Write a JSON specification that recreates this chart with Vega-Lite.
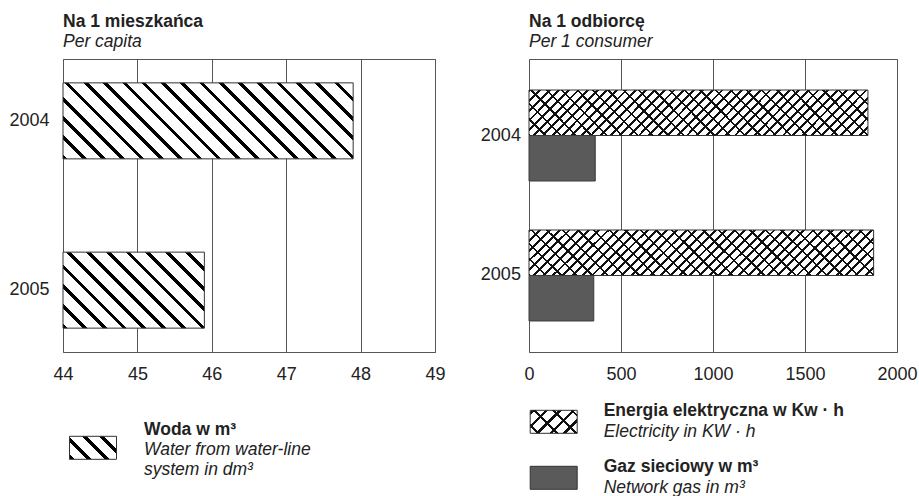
{
"$schema":"https://vega.github.io/schema/vega-lite/v6.json",
"padding":{"left":8,"top":12,"right":0,"bottom":0},
"background":"white",
"spacing":33,
"resolve":{"scale":{"stroke":"independent","strokeDash":"independent","x":"independent","y":"independent"},"legend":{"stroke":"independent","strokeDash":"independent"}},
"config":{
"font":"Liberation Sans",
"view":{"stroke":"#555","strokeWidth":1},
"axis":{"labelFont":"Liberation Sans","labelFontSize":18,"labelColor":"#222","ticks":false,"domain":false,"title":null,"gridColor":"#555","gridOpacity":1,"gridWidth":1},
"title":{"anchor":"start","frame":"group","font":"Liberation Sans","fontSize":17.5,"fontWeight":"bold","color":"#222","subtitleFont":"Liberation Sans","subtitleFontSize":17.5,"subtitleFontStyle":"italic","subtitleColor":"#222","subtitlePadding":2.5,"offset":9}
},
"hconcat":[
{
"width":372,"height":293,
"title":{"text":"Na 1 mieszkańca","subtitle":"Per capita"},
"data":{"values":[
{"year":"2004","value":47.9,"pl":"Woda w m³","en":"Water from water-line\nsystem in dm³"},
{"year":"2005","value":45.9,"pl":"Woda w m³","en":"Water from water-line\nsystem in dm³"}
]},
"encoding":{
"y":{"field":"year","type":"nominal","scale":{"paddingInner":0.551,"paddingOuter":0.141},"axis":{"labelPadding":14,"grid":false}},
"x":{"field":"value","type":"quantitative","scale":{"domain":[44,49],"nice":false,"zero":false},"axis":{"values":[44,45,46,47,48,49],"grid":true,"labelPadding":13.5,"labelFlush":false,"labelOverlap":false}},
"x2":{"datum":44}
},
"layer":[
{"transform":[{"filter":"datum.year === '2004'"}],
"mark":{"type":"bar","stroke":"#333","strokeWidth":1,"fill":{"gradient":"linear","x1":0,"y1":1,"x2":1.1809,"y2":0.6907,"stops":[
{"offset":0,"color":"#000"},{"offset":0.0126,"color":"#000"},{"offset":0.0126,"color":"#fff"},{"offset":0.0526,"color":"#fff"},
{"offset":0.0526,"color":"#000"},{"offset":0.0653,"color":"#000"},{"offset":0.0653,"color":"#fff"},{"offset":0.1053,"color":"#fff"},
{"offset":0.1053,"color":"#000"},{"offset":0.1179,"color":"#000"},{"offset":0.1179,"color":"#fff"},{"offset":0.1579,"color":"#fff"},
{"offset":0.1579,"color":"#000"},{"offset":0.1705,"color":"#000"},{"offset":0.1705,"color":"#fff"},{"offset":0.2105,"color":"#fff"},
{"offset":0.2105,"color":"#000"},{"offset":0.2232,"color":"#000"},{"offset":0.2232,"color":"#fff"},{"offset":0.2632,"color":"#fff"},
{"offset":0.2632,"color":"#000"},{"offset":0.2758,"color":"#000"},{"offset":0.2758,"color":"#fff"},{"offset":0.3158,"color":"#fff"},
{"offset":0.3158,"color":"#000"},{"offset":0.3284,"color":"#000"},{"offset":0.3284,"color":"#fff"},{"offset":0.3684,"color":"#fff"},
{"offset":0.3684,"color":"#000"},{"offset":0.3811,"color":"#000"},{"offset":0.3811,"color":"#fff"},{"offset":0.4211,"color":"#fff"},
{"offset":0.4211,"color":"#000"},{"offset":0.4337,"color":"#000"},{"offset":0.4337,"color":"#fff"},{"offset":0.4737,"color":"#fff"},
{"offset":0.4737,"color":"#000"},{"offset":0.4863,"color":"#000"},{"offset":0.4863,"color":"#fff"},{"offset":0.5263,"color":"#fff"},
{"offset":0.5263,"color":"#000"},{"offset":0.5389,"color":"#000"},{"offset":0.5389,"color":"#fff"},{"offset":0.5789,"color":"#fff"},
{"offset":0.5789,"color":"#000"},{"offset":0.5916,"color":"#000"},{"offset":0.5916,"color":"#fff"},{"offset":0.6316,"color":"#fff"},
{"offset":0.6316,"color":"#000"},{"offset":0.6442,"color":"#000"},{"offset":0.6442,"color":"#fff"},{"offset":0.6842,"color":"#fff"},
{"offset":0.6842,"color":"#000"},{"offset":0.6968,"color":"#000"},{"offset":0.6968,"color":"#fff"},{"offset":0.7368,"color":"#fff"},
{"offset":0.7368,"color":"#000"},{"offset":0.7495,"color":"#000"},{"offset":0.7495,"color":"#fff"},{"offset":0.7895,"color":"#fff"},
{"offset":0.7895,"color":"#000"},{"offset":0.8021,"color":"#000"},{"offset":0.8021,"color":"#fff"},{"offset":0.8421,"color":"#fff"},
{"offset":0.8421,"color":"#000"},{"offset":0.8547,"color":"#000"},{"offset":0.8547,"color":"#fff"},{"offset":0.8947,"color":"#fff"},
{"offset":0.8947,"color":"#000"},{"offset":0.9074,"color":"#000"},{"offset":0.9074,"color":"#fff"},{"offset":0.9474,"color":"#fff"},
{"offset":0.9474,"color":"#000"},{"offset":0.96,"color":"#000"},{"offset":0.96,"color":"#fff"},{"offset":1,"color":"#fff"}
]}}},
{"transform":[{"filter":"datum.year === '2005'"}],
"mark":{"type":"bar","stroke":"#333","strokeWidth":1,"fill":{"gradient":"linear","x1":0,"y1":1,"x2":1.1929,"y2":0.3587,"stops":[
{"offset":0,"color":"#000"},{"offset":0.0218,"color":"#000"},{"offset":0.0218,"color":"#fff"},{"offset":0.0909,"color":"#fff"},
{"offset":0.0909,"color":"#000"},{"offset":0.1127,"color":"#000"},{"offset":0.1127,"color":"#fff"},{"offset":0.1818,"color":"#fff"},
{"offset":0.1818,"color":"#000"},{"offset":0.2036,"color":"#000"},{"offset":0.2036,"color":"#fff"},{"offset":0.2727,"color":"#fff"},
{"offset":0.2727,"color":"#000"},{"offset":0.2945,"color":"#000"},{"offset":0.2945,"color":"#fff"},{"offset":0.3636,"color":"#fff"},
{"offset":0.3636,"color":"#000"},{"offset":0.3854,"color":"#000"},{"offset":0.3854,"color":"#fff"},{"offset":0.4545,"color":"#fff"},
{"offset":0.4545,"color":"#000"},{"offset":0.4763,"color":"#000"},{"offset":0.4763,"color":"#fff"},{"offset":0.5455,"color":"#fff"},
{"offset":0.5455,"color":"#000"},{"offset":0.5673,"color":"#000"},{"offset":0.5673,"color":"#fff"},{"offset":0.6364,"color":"#fff"},
{"offset":0.6364,"color":"#000"},{"offset":0.6582,"color":"#000"},{"offset":0.6582,"color":"#fff"},{"offset":0.7273,"color":"#fff"},
{"offset":0.7273,"color":"#000"},{"offset":0.7491,"color":"#000"},{"offset":0.7491,"color":"#fff"},{"offset":0.8182,"color":"#fff"},
{"offset":0.8182,"color":"#000"},{"offset":0.84,"color":"#000"},{"offset":0.84,"color":"#fff"},{"offset":0.9091,"color":"#fff"},
{"offset":0.9091,"color":"#000"},{"offset":0.9309,"color":"#000"},{"offset":0.9309,"color":"#fff"},{"offset":1,"color":"#fff"}
]}}},
{"mark":{"type":"bar","opacity":0},
"encoding":{
"stroke":{"field":"pl","type":"nominal","scale":{"range":["#333333"]},"legend":{"orient":"none","legendX":6,"legendY":364.8,"title":null,"padding":0,"symbolType":"M-1,-0.4894L1,-0.4894L1,0.4894L-1,0.4894Z","symbolSize":2209,"symbolStrokeWidth":1,"labelFont":"Liberation Sans","labelFontSize":17.5,"labelFontWeight":"bold","labelColor":"#222","labelOffset":27,"labelLimit":0,"rowPadding":7,
"encoding":{"symbols":{"opacity":{"value":1},"fillOpacity":{"value":1},"strokeOpacity":{"value":1},"fill":{"value":{"gradient":"linear","x1":0,"y1":1,"x2":1.2016,"y2":0.4119,"stops":[
{"offset":0,"color":"#000"},{"offset":0.07,"color":"#000"},{"offset":0.07,"color":"#fff"},{"offset":0.25,"color":"#fff"},
{"offset":0.25,"color":"#000"},{"offset":0.32,"color":"#000"},{"offset":0.32,"color":"#fff"},{"offset":0.5,"color":"#fff"},
{"offset":0.5,"color":"#000"},{"offset":0.57,"color":"#000"},{"offset":0.57,"color":"#fff"},{"offset":0.75,"color":"#fff"},
{"offset":0.75,"color":"#000"},{"offset":0.82,"color":"#000"},{"offset":0.82,"color":"#fff"},{"offset":1,"color":"#fff"}
]}}},"labels":{"dy":{"value":-18.2}}}}},
"strokeDash":{"field":"en","type":"nominal","scale":{"range":[[1,0]]},"legend":{"orient":"none","legendX":6,"legendY":364.8,"title":null,"padding":0,"symbolType":"M-1,-0.4894L1,-0.4894L1,0.4894L-1,0.4894Z","symbolSize":2209,"symbolStrokeWidth":1,"labelFont":"Liberation Sans","labelFontSize":17.5,"labelFontStyle":"italic","labelColor":"#222","labelOffset":27,"labelLimit":0,"rowPadding":7,"labelExpr":"split(datum.label, '\\n')",
"encoding":{"symbols":{"fill":{"value":"transparent"},"stroke":{"value":"transparent"}},"labels":{"dy":{"value":2.5},"lineHeight":{"value":20}}}}}
}}
]
},
{
"width":368,"height":293,
"title":{"text":"Na 1 odbiorcę","subtitle":"Per 1 consumer"},
"data":{"values":[
{"year":"2004","series":"Energia","value":1842,"pl":"Energia elektryczna w Kw · h","en":"Electricity in KW · h"},
{"year":"2004","series":"Gaz","value":360,"pl":"Gaz sieciowy w m³","en":"Network gas in m³"},
{"year":"2005","series":"Energia","value":1873,"pl":"Energia elektryczna w Kw · h","en":"Electricity in KW · h"},
{"year":"2005","series":"Gaz","value":352,"pl":"Gaz sieciowy w m³","en":"Network gas in m³"}
]},
"encoding":{
"y":{"field":"year","type":"nominal","scale":{"paddingInner":0.35,"paddingOuter":0.2216},"axis":{"labelPadding":8.6,"grid":false}},
"yOffset":{"field":"series","type":"nominal","scale":{"paddingInner":0,"paddingOuter":0}},
"x":{"field":"value","type":"quantitative","scale":{"domain":[0,2000],"nice":false},"axis":{"values":[0,500,1000,1500,2000],"format":"d","grid":true,"labelPadding":13.5,"labelFlush":false,"labelOverlap":false}}
},
"layer":[
{"transform":[{"filter":"datum.series === 'Energia'"}],
"mark":{"type":"bar","stroke":"#333","strokeWidth":1,"fill":{"gradient":"linear","x1":0,"y1":0,"x2":1.1133,"y2":0.1481,"stops":[
{"offset":0,"color":"#111"},{"offset":0.0075,"color":"#111"},{"offset":0.0075,"color":"#fff"},{"offset":0.025,"color":"#fff"},
{"offset":0.025,"color":"#111"},{"offset":0.0325,"color":"#111"},{"offset":0.0325,"color":"#fff"},{"offset":0.05,"color":"#fff"},
{"offset":0.05,"color":"#111"},{"offset":0.0575,"color":"#111"},{"offset":0.0575,"color":"#fff"},{"offset":0.075,"color":"#fff"},
{"offset":0.075,"color":"#111"},{"offset":0.0825,"color":"#111"},{"offset":0.0825,"color":"#fff"},{"offset":0.1,"color":"#fff"},
{"offset":0.1,"color":"#111"},{"offset":0.1075,"color":"#111"},{"offset":0.1075,"color":"#fff"},{"offset":0.125,"color":"#fff"},
{"offset":0.125,"color":"#111"},{"offset":0.1325,"color":"#111"},{"offset":0.1325,"color":"#fff"},{"offset":0.15,"color":"#fff"},
{"offset":0.15,"color":"#111"},{"offset":0.1575,"color":"#111"},{"offset":0.1575,"color":"#fff"},{"offset":0.175,"color":"#fff"},
{"offset":0.175,"color":"#111"},{"offset":0.1825,"color":"#111"},{"offset":0.1825,"color":"#fff"},{"offset":0.2,"color":"#fff"},
{"offset":0.2,"color":"#111"},{"offset":0.2075,"color":"#111"},{"offset":0.2075,"color":"#fff"},{"offset":0.225,"color":"#fff"},
{"offset":0.225,"color":"#111"},{"offset":0.2325,"color":"#111"},{"offset":0.2325,"color":"#fff"},{"offset":0.25,"color":"#fff"},
{"offset":0.25,"color":"#111"},{"offset":0.2575,"color":"#111"},{"offset":0.2575,"color":"#fff"},{"offset":0.275,"color":"#fff"},
{"offset":0.275,"color":"#111"},{"offset":0.2825,"color":"#111"},{"offset":0.2825,"color":"#fff"},{"offset":0.3,"color":"#fff"},
{"offset":0.3,"color":"#111"},{"offset":0.3075,"color":"#111"},{"offset":0.3075,"color":"#fff"},{"offset":0.325,"color":"#fff"},
{"offset":0.325,"color":"#111"},{"offset":0.3325,"color":"#111"},{"offset":0.3325,"color":"#fff"},{"offset":0.35,"color":"#fff"},
{"offset":0.35,"color":"#111"},{"offset":0.3575,"color":"#111"},{"offset":0.3575,"color":"#fff"},{"offset":0.375,"color":"#fff"},
{"offset":0.375,"color":"#111"},{"offset":0.3825,"color":"#111"},{"offset":0.3825,"color":"#fff"},{"offset":0.4,"color":"#fff"},
{"offset":0.4,"color":"#111"},{"offset":0.4075,"color":"#111"},{"offset":0.4075,"color":"#fff"},{"offset":0.425,"color":"#fff"},
{"offset":0.425,"color":"#111"},{"offset":0.4325,"color":"#111"},{"offset":0.4325,"color":"#fff"},{"offset":0.45,"color":"#fff"},
{"offset":0.45,"color":"#111"},{"offset":0.4575,"color":"#111"},{"offset":0.4575,"color":"#fff"},{"offset":0.475,"color":"#fff"},
{"offset":0.475,"color":"#111"},{"offset":0.4825,"color":"#111"},{"offset":0.4825,"color":"#fff"},{"offset":0.5,"color":"#fff"},
{"offset":0.5,"color":"#111"},{"offset":0.5075,"color":"#111"},{"offset":0.5075,"color":"#fff"},{"offset":0.525,"color":"#fff"},
{"offset":0.525,"color":"#111"},{"offset":0.5325,"color":"#111"},{"offset":0.5325,"color":"#fff"},{"offset":0.55,"color":"#fff"},
{"offset":0.55,"color":"#111"},{"offset":0.5575,"color":"#111"},{"offset":0.5575,"color":"#fff"},{"offset":0.575,"color":"#fff"},
{"offset":0.575,"color":"#111"},{"offset":0.5825,"color":"#111"},{"offset":0.5825,"color":"#fff"},{"offset":0.6,"color":"#fff"},
{"offset":0.6,"color":"#111"},{"offset":0.6075,"color":"#111"},{"offset":0.6075,"color":"#fff"},{"offset":0.625,"color":"#fff"},
{"offset":0.625,"color":"#111"},{"offset":0.6325,"color":"#111"},{"offset":0.6325,"color":"#fff"},{"offset":0.65,"color":"#fff"},
{"offset":0.65,"color":"#111"},{"offset":0.6575,"color":"#111"},{"offset":0.6575,"color":"#fff"},{"offset":0.675,"color":"#fff"},
{"offset":0.675,"color":"#111"},{"offset":0.6825,"color":"#111"},{"offset":0.6825,"color":"#fff"},{"offset":0.7,"color":"#fff"},
{"offset":0.7,"color":"#111"},{"offset":0.7075,"color":"#111"},{"offset":0.7075,"color":"#fff"},{"offset":0.725,"color":"#fff"},
{"offset":0.725,"color":"#111"},{"offset":0.7325,"color":"#111"},{"offset":0.7325,"color":"#fff"},{"offset":0.75,"color":"#fff"},
{"offset":0.75,"color":"#111"},{"offset":0.7575,"color":"#111"},{"offset":0.7575,"color":"#fff"},{"offset":0.775,"color":"#fff"},
{"offset":0.775,"color":"#111"},{"offset":0.7825,"color":"#111"},{"offset":0.7825,"color":"#fff"},{"offset":0.8,"color":"#fff"},
{"offset":0.8,"color":"#111"},{"offset":0.8075,"color":"#111"},{"offset":0.8075,"color":"#fff"},{"offset":0.825,"color":"#fff"},
{"offset":0.825,"color":"#111"},{"offset":0.8325,"color":"#111"},{"offset":0.8325,"color":"#fff"},{"offset":0.85,"color":"#fff"},
{"offset":0.85,"color":"#111"},{"offset":0.8575,"color":"#111"},{"offset":0.8575,"color":"#fff"},{"offset":0.875,"color":"#fff"},
{"offset":0.875,"color":"#111"},{"offset":0.8825,"color":"#111"},{"offset":0.8825,"color":"#fff"},{"offset":0.9,"color":"#fff"},
{"offset":0.9,"color":"#111"},{"offset":0.9075,"color":"#111"},{"offset":0.9075,"color":"#fff"},{"offset":0.925,"color":"#fff"},
{"offset":0.925,"color":"#111"},{"offset":0.9325,"color":"#111"},{"offset":0.9325,"color":"#fff"},{"offset":0.95,"color":"#fff"},
{"offset":0.95,"color":"#111"},{"offset":0.9575,"color":"#111"},{"offset":0.9575,"color":"#fff"},{"offset":0.975,"color":"#fff"},
{"offset":0.975,"color":"#111"},{"offset":0.9825,"color":"#111"},{"offset":0.9825,"color":"#fff"},{"offset":1,"color":"#fff"}
]}}},
{"transform":[{"filter":"datum.series === 'Energia'"}],
"mark":{"type":"bar","strokeWidth":0,"fill":{"gradient":"linear","x1":0,"y1":1,"x2":1.1133,"y2":0.8519,"stops":[
{"offset":0,"color":"#111"},{"offset":0.006,"color":"#111"},{"offset":0.006,"color":"rgba(0,0,0,0)"},{"offset":0.04,"color":"rgba(0,0,0,0)"},
{"offset":0.04,"color":"#111"},{"offset":0.046,"color":"#111"},{"offset":0.046,"color":"rgba(0,0,0,0)"},{"offset":0.08,"color":"rgba(0,0,0,0)"},
{"offset":0.08,"color":"#111"},{"offset":0.086,"color":"#111"},{"offset":0.086,"color":"rgba(0,0,0,0)"},{"offset":0.12,"color":"rgba(0,0,0,0)"},
{"offset":0.12,"color":"#111"},{"offset":0.126,"color":"#111"},{"offset":0.126,"color":"rgba(0,0,0,0)"},{"offset":0.16,"color":"rgba(0,0,0,0)"},
{"offset":0.16,"color":"#111"},{"offset":0.166,"color":"#111"},{"offset":0.166,"color":"rgba(0,0,0,0)"},{"offset":0.2,"color":"rgba(0,0,0,0)"},
{"offset":0.2,"color":"#111"},{"offset":0.206,"color":"#111"},{"offset":0.206,"color":"rgba(0,0,0,0)"},{"offset":0.24,"color":"rgba(0,0,0,0)"},
{"offset":0.24,"color":"#111"},{"offset":0.246,"color":"#111"},{"offset":0.246,"color":"rgba(0,0,0,0)"},{"offset":0.28,"color":"rgba(0,0,0,0)"},
{"offset":0.28,"color":"#111"},{"offset":0.286,"color":"#111"},{"offset":0.286,"color":"rgba(0,0,0,0)"},{"offset":0.32,"color":"rgba(0,0,0,0)"},
{"offset":0.32,"color":"#111"},{"offset":0.326,"color":"#111"},{"offset":0.326,"color":"rgba(0,0,0,0)"},{"offset":0.36,"color":"rgba(0,0,0,0)"},
{"offset":0.36,"color":"#111"},{"offset":0.366,"color":"#111"},{"offset":0.366,"color":"rgba(0,0,0,0)"},{"offset":0.4,"color":"rgba(0,0,0,0)"},
{"offset":0.4,"color":"#111"},{"offset":0.406,"color":"#111"},{"offset":0.406,"color":"rgba(0,0,0,0)"},{"offset":0.44,"color":"rgba(0,0,0,0)"},
{"offset":0.44,"color":"#111"},{"offset":0.446,"color":"#111"},{"offset":0.446,"color":"rgba(0,0,0,0)"},{"offset":0.48,"color":"rgba(0,0,0,0)"},
{"offset":0.48,"color":"#111"},{"offset":0.486,"color":"#111"},{"offset":0.486,"color":"rgba(0,0,0,0)"},{"offset":0.52,"color":"rgba(0,0,0,0)"},
{"offset":0.52,"color":"#111"},{"offset":0.526,"color":"#111"},{"offset":0.526,"color":"rgba(0,0,0,0)"},{"offset":0.56,"color":"rgba(0,0,0,0)"},
{"offset":0.56,"color":"#111"},{"offset":0.566,"color":"#111"},{"offset":0.566,"color":"rgba(0,0,0,0)"},{"offset":0.6,"color":"rgba(0,0,0,0)"},
{"offset":0.6,"color":"#111"},{"offset":0.606,"color":"#111"},{"offset":0.606,"color":"rgba(0,0,0,0)"},{"offset":0.64,"color":"rgba(0,0,0,0)"},
{"offset":0.64,"color":"#111"},{"offset":0.646,"color":"#111"},{"offset":0.646,"color":"rgba(0,0,0,0)"},{"offset":0.68,"color":"rgba(0,0,0,0)"},
{"offset":0.68,"color":"#111"},{"offset":0.686,"color":"#111"},{"offset":0.686,"color":"rgba(0,0,0,0)"},{"offset":0.72,"color":"rgba(0,0,0,0)"},
{"offset":0.72,"color":"#111"},{"offset":0.726,"color":"#111"},{"offset":0.726,"color":"rgba(0,0,0,0)"},{"offset":0.76,"color":"rgba(0,0,0,0)"},
{"offset":0.76,"color":"#111"},{"offset":0.766,"color":"#111"},{"offset":0.766,"color":"rgba(0,0,0,0)"},{"offset":0.8,"color":"rgba(0,0,0,0)"},
{"offset":0.8,"color":"#111"},{"offset":0.806,"color":"#111"},{"offset":0.806,"color":"rgba(0,0,0,0)"},{"offset":0.84,"color":"rgba(0,0,0,0)"},
{"offset":0.84,"color":"#111"},{"offset":0.846,"color":"#111"},{"offset":0.846,"color":"rgba(0,0,0,0)"},{"offset":0.88,"color":"rgba(0,0,0,0)"},
{"offset":0.88,"color":"#111"},{"offset":0.886,"color":"#111"},{"offset":0.886,"color":"rgba(0,0,0,0)"},{"offset":0.92,"color":"rgba(0,0,0,0)"},
{"offset":0.92,"color":"#111"},{"offset":0.926,"color":"#111"},{"offset":0.926,"color":"rgba(0,0,0,0)"},{"offset":0.96,"color":"rgba(0,0,0,0)"},
{"offset":0.96,"color":"#111"},{"offset":0.966,"color":"#111"},{"offset":0.966,"color":"rgba(0,0,0,0)"},{"offset":1,"color":"rgba(0,0,0,0)"}
]}}},
{"transform":[{"filter":"datum.series === 'Gaz'"}],
"mark":{"type":"bar","fill":"#5a5a5a","stroke":"#3a3a3a","strokeWidth":1}},
{"mark":{"type":"bar","opacity":0},
"encoding":{
"stroke":{"field":"pl","type":"nominal","scale":{"range":["#333333","#333333"]},"legend":{"orient":"none","legendX":0.7,"legendY":338.8,"title":null,"padding":0,"symbolType":"M-1,-0.4894L1,-0.4894L1,0.4894L-1,0.4894Z M0,-1L0,-1M0,1L0,1","symbolSize":2209,"symbolStrokeWidth":1,"labelFont":"Liberation Sans","labelFontSize":17.5,"labelFontWeight":"bold","labelColor":"#222","labelOffset":26,"labelLimit":0,"rowPadding":4,
"encoding":{"symbols":{"opacity":{"value":1},"fillOpacity":{"value":1},"strokeOpacity":{"value":1},"fill":{"condition":{"test":"indexof(datum.value,'Gaz')>=0","value":"#5a5a5a"},"value":{"gradient":"linear","x1":0,"y1":0,"x2":1,"y2":1,"stops":[
{"offset":0,"color":"#111"},{"offset":0.0357,"color":"#111"},{"offset":0.0357,"color":"#fff"},{"offset":0.1429,"color":"#fff"},
{"offset":0.1429,"color":"#111"},{"offset":0.1786,"color":"#111"},{"offset":0.1786,"color":"#fff"},{"offset":0.2857,"color":"#fff"},
{"offset":0.2857,"color":"#111"},{"offset":0.3214,"color":"#111"},{"offset":0.3214,"color":"#fff"},{"offset":0.4286,"color":"#fff"},
{"offset":0.4286,"color":"#111"},{"offset":0.4643,"color":"#111"},{"offset":0.4643,"color":"#fff"},{"offset":0.5714,"color":"#fff"},
{"offset":0.5714,"color":"#111"},{"offset":0.6071,"color":"#111"},{"offset":0.6071,"color":"#fff"},{"offset":0.7143,"color":"#fff"},
{"offset":0.7143,"color":"#111"},{"offset":0.75,"color":"#111"},{"offset":0.75,"color":"#fff"},{"offset":0.8571,"color":"#fff"},
{"offset":0.8571,"color":"#111"},{"offset":0.8929,"color":"#111"},{"offset":0.8929,"color":"#fff"},{"offset":1,"color":"#fff"}
]}}},"labels":{"dy":{"value":-10.5}}}}},
"strokeDash":{"field":"en","type":"nominal","scale":{"range":[[1,0],[1,0]]},"legend":{"orient":"none","legendX":0.7,"legendY":338.8,"title":null,"padding":0,"symbolType":"M-1,-0.4894L1,-0.4894L1,0.4894L-1,0.4894Z M0,-1L0,-1M0,1L0,1","symbolSize":2209,"symbolStrokeWidth":1,"labelFont":"Liberation Sans","labelFontSize":17.5,"labelFontStyle":"italic","labelColor":"#222","labelOffset":26,"labelLimit":0,"rowPadding":4,
"encoding":{"symbols":{"opacity":{"value":1},"fillOpacity":{"value":1},"stroke":{"value":"transparent"},"fill":{"condition":{"test":"indexof(datum.value,'Network')>=0","value":"transparent"},"value":{"gradient":"linear","x1":0,"y1":1,"x2":1,"y2":0,"stops":[
{"offset":0,"color":"#111"},{"offset":0.03,"color":"#111"},{"offset":0.03,"color":"rgba(0,0,0,0)"},{"offset":0.2,"color":"rgba(0,0,0,0)"},
{"offset":0.2,"color":"#111"},{"offset":0.23,"color":"#111"},{"offset":0.23,"color":"rgba(0,0,0,0)"},{"offset":0.4,"color":"rgba(0,0,0,0)"},
{"offset":0.4,"color":"#111"},{"offset":0.43,"color":"#111"},{"offset":0.43,"color":"rgba(0,0,0,0)"},{"offset":0.6,"color":"rgba(0,0,0,0)"},
{"offset":0.6,"color":"#111"},{"offset":0.63,"color":"#111"},{"offset":0.63,"color":"rgba(0,0,0,0)"},{"offset":0.8,"color":"rgba(0,0,0,0)"},
{"offset":0.8,"color":"#111"},{"offset":0.83,"color":"#111"},{"offset":0.83,"color":"rgba(0,0,0,0)"},{"offset":1,"color":"rgba(0,0,0,0)"}
]}}},"labels":{"dy":{"value":10.2}}}}}
}}
]
}
]
}
